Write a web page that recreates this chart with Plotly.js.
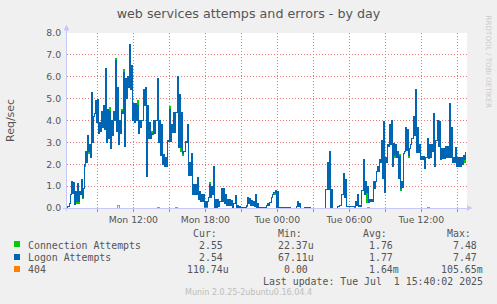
<!DOCTYPE html>
<html><head><meta charset="utf-8">
<script src="https://cdn.plot.ly/plotly-3.0.1.min.js"></script>
<style>
html,body{margin:0;padding:0;background:#F0F0F0;}
#chart{width:497px;height:304px;}
.scatterlayer path, .gridlayer path, .xtick, .ytick, .layer-above path{shape-rendering:crispEdges;}
</style>
</head><body><div id="chart"></div>
<script>
// ---- data (10-minute slots, each slot: low sample then high sample, 5 min apart) ----
const startTime = '2025-06-30T06:25:00Z';
const viewStart = '2025-06-30T06:28:30Z';
const viewEnd = '2025-07-01T15:48:30Z';

const logonLo = [
 0.02,0.05,0.6,0.65,0.15,0.3,0.3,0.6,0.5,2.0,
 2.1,2.6,2.3,3.0,4.3,3.9,3.4,3.5,3.7,3.6,
 3.0,3.2,2.7,3.3,4.0,3.5,2.9,3.4,4.3,2.8,
 5.0,5.5,5.4,4.0,3.9,4.0,3.4,3.7,4.0,4.7,
 1.45,3.2,3.2,3.35,3.4,4.0,3.0,2.4,2.0,1.9,
 1.9,3.05,3.05,3.45,3.45,4.35,2.75,2.75,2.5,2.6,
 3.0,1.5,1.5,0.6,0.6,0.6,0.38,0.3,0.3,0.08,
 0.08,0.46,0.5,0.6,0.0,0.0,0.08,0.3,0.3,0.2,
 0.1,0.1,0.1,0.0,0.2,0.0,0.0,0.02,0.02,0.02,
 0.1,0.2,0.1,0.1,0.05,0.0,0.0,0.02,0.02,0.02,
 0.1,0.1,0.25,0.6,0.7,0.02,0.02,0.02,0.02,0.02,
 0.02,0.02,0,0,0,0.05,0.05,0,0,0.03,
 0.03,0.03,0,0,0,0,0,0,0,0,
 0.85,0.85,0,0,0,0,0.05,0.1,0.6,0.5,
 0.05,0.05,0.05,0.05,0.05,0.1,0.05,0.05,0.8,0.6,
 0.7,0.25,0.3,0.3,0.9,1.65,1.65,2.1,1.35,0.7,
 2.1,2.8,2.9,1.9,2.4,2.3,1.35,0.9,0.95,2.6,
 2.65,2.4,2.9,3.2,3.3,2.55,2.55,2.2,2.2,1.8,
 2.3,2.25,2.3,2.6,1.9,3.1,2.8,2.2,2.25,2.25,
 2.3,2.3,2.3,2.1,2.1,1.9,1.9,1.9,2.0,2.2
];
const logonHi = [
 0.08,0.2,1.2,1.15,0.75,1.1,0.75,1.3,0.9,2.6,
 3.3,2.9,5.3,4.2,4.9,4.95,3.9,4.4,4.7,6.4,
 4.5,4.4,4.0,4.4,6.75,5.5,4.0,4.4,6.2,5.9,
 6.0,7.47,6.5,4.8,4.8,4.7,4.0,4.0,5.4,5.5,
 4.7,3.9,3.4,4.0,4.0,5.9,4.0,3.8,2.45,2.3,
 3.1,4.5,3.8,4.35,4.35,6.0,5.2,4.35,2.6,3.05,
 3.8,2.1,2.5,1.07,1.07,1.4,0.76,0.6,0.6,0.3,
 0.3,1.07,1.0,1.9,0.38,0.38,0.3,0.9,0.9,0.6,
 0.4,0.4,0.35,0.2,0.55,0.1,0.05,0.02,0.02,0.02,
 0.5,0.45,0.35,0.3,0.6,0.2,0.02,0.02,0.02,0.02,
 0.2,0.25,0.5,0.7,0.8,0.75,0.02,0.02,0.02,0.02,
 0.02,0.02,0,0,0,0.3,0.2,0,0,0.03,
 0.03,0.03,0,0,0,0,0,0,0,0.85,
 2.1,2.6,0.85,0,0,0.05,0.1,0.6,1.6,1.3,
 0.05,0.05,0.05,0.05,0.3,0.6,0.1,0.8,2.2,1.2,
 1.0,0.4,0.4,1.2,1.2,1.9,2.2,3.1,3.95,2.3,
 2.9,3.8,4.0,2.95,2.9,2.6,2.35,1.2,2.5,3.7,
 3.6,2.7,3.2,4.2,5.4,3.7,2.9,2.35,2.35,2.3,
 3.2,2.9,2.9,4.3,3.1,4.0,3.95,2.7,2.7,2.8,
 2.8,4.8,3.7,2.3,2.75,2.3,2.3,2.3,2.4,2.54
];
// Connection Attempts equals Logon Attempts except in these slots: [slot, low, high]
const connectionDiffs = [
 [5,0.22,1.1],[6,0.22,0.75],[8,0.42,0.9],[9,1.9,2.6],[11,2.5,2.9],[21,3.2,4.6],
 [24,4.0,6.85],[27,3.4,4.5],[28,4.3,6.35],[31,5.5,7.48],[35,4.0,4.9],[42,3.2,3.5],
 [51,3.05,4.65],[57,2.6,4.35],[58,2.4,2.6],[69,0.0,0.3],[70,0.0,0.3],[71,0.46,1.15],
 [90,0.05,0.5],[104,0.62,0.8],[144,0.02,0.3],[150,0.25,1.0],[164,2.3,2.9],
 [166,1.35,2.45],[167,0.8,1.2],[171,2.3,2.7],[199,2.1,2.55]
];
// 404 errors are 0 except in these slots: [slot, value]
const err404Spikes = [[25,0.106],[45,0.03],[54,0.03],[150,0.03],[180,0.04]];

const tickTimes = ['2025-06-30T09:00:00Z','2025-06-30T12:00:00Z','2025-06-30T15:00:00Z','2025-06-30T18:00:00Z',
 '2025-06-30T21:00:00Z','2025-07-01T00:00:00Z','2025-07-01T03:00:00Z','2025-07-01T06:00:00Z',
 '2025-07-01T09:00:00Z','2025-07-01T12:00:00Z','2025-07-01T15:00:00Z'];
const tickLabels = ['','Mon 12:00','','Mon 18:00','','Tue 00:00','','Tue 06:00','','Tue 12:00',''];

const legendNames = ['Connection Attempts','Logon Attempts','404'];
const legendColors = ['#00CC00','#0066B3','#FF8000'];
const curVals = ['2.55','2.54','110.74u'];
const minVals = ['22.37u','67.11u','0.00'];
const avgVals = ['1.76','1.77','1.64m'];
const maxVals = ['7.48','7.47','105.65m'];
const colHeads = ['Cur:','Min:','Avg:','Max:'];
const lastUpdate = 'Last update: Tue Jul \u00A01 15:40:02 2025';
const versionText = 'Munin 2.0.25-2ubuntu0.16.04.4';
const titleText = 'web services attemps and errors - by day';
const yTitle = 'Req/sec';
const watermark = 'RRDTOOL / TOBI OETIKER';

// ---- build traces ----
const t0 = Date.parse(startTime);
const MIN = 60000;
function pairs(lo, hi){
  const x=[], y=[];
  for(let i=0;i<lo.length;i++){
    x.push(t0 + i*10*MIN); y.push(lo[i]);
    x.push(t0 + i*10*MIN + 5*MIN); y.push(hi[i]);
  }
  return {x,y};
}
const connLo = logonLo.slice(), connHi = logonHi.slice();
connectionDiffs.forEach(d=>{connLo[d[0]]=d[1]; connHi[d[0]]=d[2];});
const err = logonLo.map(()=>0);
err404Spikes.forEach(s=>{err[s[0]]=s[1];});

const pc = pairs(connLo, connHi), pl = pairs(logonLo, logonHi);
const traces = [
  {x:pc.x, y:pc.y, type:'scatter', mode:'lines', line:{color:legendColors[0], width:1, shape:'hv', simplify:false}, hoverinfo:'skip'},
  {x:pl.x, y:pl.y, type:'scatter', mode:'lines', line:{color:legendColors[1], width:1, shape:'hv', simplify:false}, hoverinfo:'skip'},
  {x:err.map((v,i)=>t0+i*10*MIN+5*MIN), y:err, type:'scatter', mode:'lines', line:{color:legendColors[2], width:1, shape:'hv', simplify:false}, hoverinfo:'skip'}
];

// ---- layout helpers (pixel -> paper) ----
const PL=67, PR=467, PT=33, PB=208;
const px = X => (X-PL)/(PR-PL);
const py = Y => (PB-Y)/(PB-PT);
const axisColor = '#C8C8F8';
const gridColor = 'rgb(228,120,120)';
const textColor = '#555555';
const mono = 'DejaVu Sans Mono';
const sans = 'DejaVu Sans';
const cw = 5.96;

const shapes = [
  {type:'line', xref:'paper', yref:'paper', x0:px(63), x1:px(468), y0:0, y1:0, line:{color:axisColor, width:1}},
  {type:'path', xref:'paper', yref:'paper', path:`M${px(467)},${py(205.3)} L${px(472)},${py(208)} L${px(467)},${py(210.7)} Z`, fillcolor:axisColor, line:{color:axisColor, width:0.5}},
  {type:'line', xref:'paper', yref:'paper', x0:px(66.5), x1:px(66.5), y0:py(211), y1:py(29), line:{color:axisColor, width:1}},
  {type:'path', xref:'paper', yref:'paper', path:`M${px(63.8)},${py(30)} L${px(66.5)},${py(25)} L${px(69.2)},${py(30)} Z`, fillcolor:axisColor, line:{color:axisColor, width:0.5}}
];
const rowY = [245.2, 257.4, 269.4];
const sqY = [244.2, 256.6, 268.6];
legendColors.forEach((c,k)=>{
  shapes.push({type:'rect', xref:'paper', yref:'paper', x0:px(13.8), x1:px(19.6), y0:py(sqY[k]-2.9), y1:py(sqY[k]+2.9), fillcolor:c, line:{width:0}});
});

const ann = [];
function txt(text, X, Y, opts){
  ann.push(Object.assign({text, x:px(X), y:py(Y), xref:'paper', yref:'paper', showarrow:false, borderpad:0,
    xanchor:'left', yanchor:'middle', font:{family:mono, size:9.9, color:textColor}}, opts||{}));
}
const fieldEdges = [230, 315.2, 399.5, 483.5];
const cols = [curVals, minVals, avgVals, maxVals];
colHeads.forEach((h,c)=> txt(h, fieldEdges[c]-2*cw, 233.5, {xanchor:'right'}));
legendNames.forEach((n,k)=>{
  txt(n, 26.6, rowY[k]);
  cols.forEach((vals,c)=>{
    const v = vals[k];
    const hasUnit = /[a-zA-Z]$/.test(v);
    txt(v, fieldEdges[c] - (hasUnit?0:cw), rowY[k], {xanchor:'right'});
  });
});
txt(lastUpdate, 483.5, 281.5, {xanchor:'right'});
txt(versionText, 248.5, 292.5, {xanchor:'center', font:{family:sans, size:8, color:'#BDBDBD'}});
txt(yTitle, 10.5, 120.5, {xanchor:'center', textangle:-90, font:{family:sans, size:11, color:textColor}});
txt(watermark, 488, 61.5, {xanchor:'center', textangle:90, font:{family:sans, size:7.2, color:'#CCCCCC'}});

const layout = {
  width:497, height:304,
  margin:{l:PL, r:497-PR, t:PT, b:304-PB, pad:0},
  paper_bgcolor:'#F0F0F0', plot_bgcolor:'#FFFFFF',
  showlegend:false,
  title:{text:titleText, font:{family:sans, size:12.7, color:textColor}, x:0.5, xref:'container', xanchor:'center', y:1-13.5/304, yref:'container', yanchor:'middle'},
  xaxis:{type:'date', range:[Date.parse(viewStart), Date.parse(viewEnd)],
    tickmode:'array', tickvals:tickTimes.map(t=>Date.parse(t)), ticktext:tickLabels,
    showgrid:true, gridcolor:gridColor, griddash:'1px,2px', gridwidth:1,
    ticks:'outside', ticklen:3, tickcolor:gridColor, tickwidth:1,
    showline:false, zeroline:false, fixedrange:true,
    tickfont:{family:sans, size:9.3, color:textColor}},
  yaxis:{range:[0,8], tickmode:'linear', tick0:0, dtick:1, tickformat:'.1f',
    showgrid:true, gridcolor:gridColor, griddash:'1px,2px', gridwidth:1,
    ticks:'outside', ticklen:3, tickcolor:'rgba(0,0,0,0)',
    showline:false, zeroline:false, fixedrange:true,
    tickfont:{family:sans, size:9.3, color:textColor}},
  shapes, annotations:ann
};
Plotly.newPlot('chart', traces, layout, {staticPlot:true, displayModeBar:false});
</script>
</body></html>
